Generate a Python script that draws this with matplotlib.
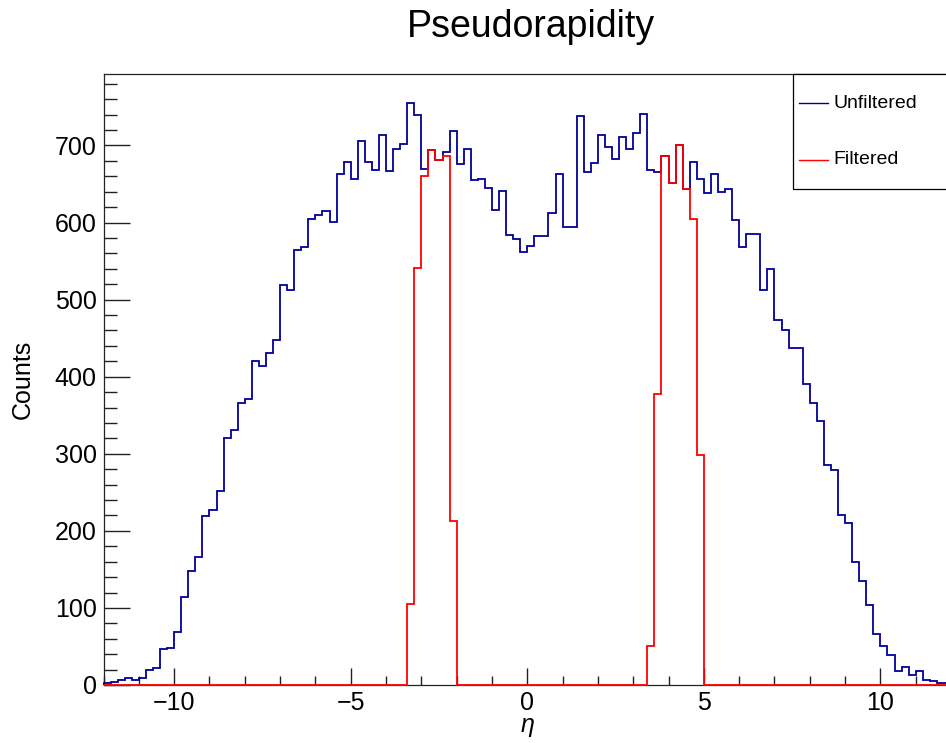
import numpy as np
import matplotlib
matplotlib.use("Agg")
import matplotlib.pyplot as plt
from matplotlib.patches import Rectangle
from matplotlib.lines import Line2D
from matplotlib.ticker import MultipleLocator

plt.rcParams['font.family'] = ['Liberation Sans', 'DejaVu Sans']

# histogram binning: 120 bins of 0.2 from -12 to 12
eta_min = -12.0
eta_max = 12.0
n_bins = 120

unfiltered = [3, 4, 6, 9, 6, 9, 19, 22, 47, 48,
              69, 114, 148, 166, 219, 227, 252, 320, 331, 366,
              371, 421, 414, 431, 447, 519, 512, 564, 568, 604,
              610, 615, 601, 663, 679, 656, 706, 679, 668, 713,
              667, 695, 702, 755, 739, 670, 694, 681, 691, 719,
              676, 695, 655, 657, 645, 616, 641, 584, 579, 562,
              569, 582, 582, 613, 663, 594, 594, 738, 666, 677,
              713, 698, 682, 711, 695, 716, 741, 668, 666, 687,
              651, 700, 643, 678, 656, 638, 663, 640, 644, 603,
              568, 585, 585, 512, 540, 474, 461, 437, 437, 390,
              366, 343, 285, 279, 221, 210, 159, 135, 104, 66,
              50, 39, 18, 23, 13, 18, 7, 5, 3, 2]

# filtered counts, only non-empty bins listed (bin index -> count)
filtered_bins = [43, 44, 45, 46, 47, 48, 49,
                 77, 78, 79, 80, 81, 82, 83, 84]
filtered_counts = [105, 541, 660, 694, 681, 686, 213,
                   50, 377, 687, 651, 700, 643, 605, 298]

labels = ["Unfiltered", "Filtered"]
colors = ["#000099", "#ff0000"]

edges = np.linspace(eta_min, eta_max, n_bins + 1)
filtered = np.zeros(n_bins)
filtered[filtered_bins] = filtered_counts

W, H = 946, 743
fig = plt.figure(figsize=(W / 100, H / 100), dpi=100)

# frame in pixels: left 103.5, right 951 (cut off by canvas), top 74, bottom 685
ax = fig.add_axes([103.5 / W, (H - 685) / H, (951 - 103.5) / W, (685 - 74) / H])

ax.stairs(unfiltered, edges, color=colors[0], lw=1.3, zorder=3, clip_on=False)
ax.stairs(filtered, edges, color=colors[1], lw=1.3, zorder=4, clip_on=False)

ax.set_xlim(eta_min, eta_max)
ax.set_ylim(0, 1.05 * max(unfiltered))

ax.xaxis.set_major_locator(MultipleLocator(5))
ax.xaxis.set_minor_locator(MultipleLocator(1))
ax.yaxis.set_major_locator(MultipleLocator(100))
ax.yaxis.set_minor_locator(MultipleLocator(20))

ax.tick_params(axis='both', which='both', direction='in', top=False, right=False,
               labelsize=18, width=1, color='#222222')
ax.tick_params(axis='x', which='major', length=12.5, pad=4)
ax.tick_params(axis='x', which='minor', length=6.3)
ax.tick_params(axis='y', which='major', length=19, pad=5)
ax.tick_params(axis='y', which='minor', length=9.5)

for sp in ax.spines.values():
    sp.set_linewidth(0.9)
    sp.set_color('#222222')

ax.set_xlabel("η", fontsize=18, style='italic', labelpad=-1)
ax.set_ylabel("Counts", fontsize=18, labelpad=14)

fig.text(531 / W, (H - 37) / H, "Pseudorapidity", fontsize=27,
         ha='center', va='baseline')

# ROOT-like legend box in top right corner
fig.patches.append(Rectangle((793 / W, (H - 189) / H), 200 / W, 115 / H,
                             transform=fig.transFigure, facecolor='white',
                             edgecolor='black', lw=0.9, zorder=5))
for i, (lab, col) in enumerate(zip(labels, colors)):
    yy = (H - (103 + 57 * i)) / H
    fig.lines.append(Line2D([799 / W, 828 / W], [yy, yy], transform=fig.transFigure,
                            color=col, lw=1.0, zorder=6))
    fig.text(833 / W, yy, lab, fontsize=14, ha='left', va='center', zorder=6)

fig.savefig("out.png", dpi=100)
